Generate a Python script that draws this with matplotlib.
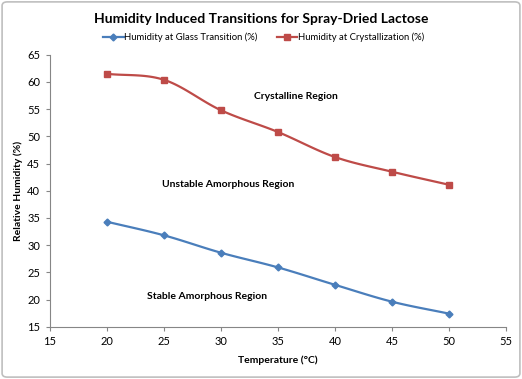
import numpy as np
import matplotlib
matplotlib.use("Agg")
from matplotlib import pyplot as plt
from matplotlib.patches import FancyBboxPatch

temperature = [20, 25, 30, 35, 40, 45, 50]
rh_glass = [34.3, 31.8, 28.6, 25.9, 22.7, 19.6, 17.4]
rh_cryst = [61.5, 60.4, 54.8, 50.8, 46.2, 43.5, 41.1]

regions = [
    ("Crystalline Region", 36.6, 57.3),
    ("Unstable Amorphous Region", 30.6, 41.2),
    ("Stable Amorphous Region", 28.8, 20.5),
]


def smooth(x, y, steps=20):
    # catmull-rom, roughly what excel's "smoothed line" does
    x = np.asarray(x, float)
    y = np.asarray(y, float)
    px = np.concatenate([[2 * x[0] - x[1]], x, [2 * x[-1] - x[-2]]])
    py = np.concatenate([[2 * y[0] - y[1]], y, [2 * y[-1] - y[-2]]])
    xs, ys = [], []
    t = np.linspace(0, 1, steps, endpoint=False)
    for i in range(1, len(px) - 2):
        for p, out in ((px, xs), (py, ys)):
            p0, p1, p2, p3 = p[i - 1:i + 3]
            out.extend(0.5 * (2 * p1 + (-p0 + p2) * t + (2 * p0 - 5 * p1 + 4 * p2 - p3) * t ** 2
                              + (-p0 + 3 * p1 - 3 * p2 + p3) * t ** 3))
    xs.append(x[-1])
    ys.append(y[-1])
    return xs, ys


plt.rcParams['font.family'] = ['Lato', 'DejaVu Sans']
fig = plt.figure(figsize=(5.22, 3.79), dpi=100)
fig.patches.append(FancyBboxPatch((0.004, 0.005), 0.992, 0.99, boxstyle="round,pad=0,rounding_size=0.01",
                                  transform=fig.transFigure, facecolor='none',
                                  edgecolor='#bfbfbf', linewidth=1.2, zorder=5))
ax = fig.add_axes([0.0958, 0.138, 0.8735, 0.7174])

blue = '#4a7ebb'
red = '#be4b48'
sx, sy = smooth(temperature, rh_glass)
ax.plot(sx, sy, color=blue, linewidth=1.6)
ax.plot(temperature, rh_glass, linestyle='none', marker='D', markersize=3.5, color=blue)
sx, sy = smooth(temperature, rh_cryst)
ax.plot(sx, sy, color=red, linewidth=1.6)
ax.plot(temperature, rh_cryst, linestyle='none', marker='s', markersize=5, color=red)

# legend proxies
ax.plot([], [], color=blue, marker='D', markersize=3.5, linewidth=1.6,
        label='Humidity at Glass Transition (%)')
ax.plot([], [], color=red, marker='s', markersize=5, linewidth=1.6,
        label='Humidity at Crystallization (%)')
h, l = ax.get_legend_handles_labels()
fig.legend(h[-2:], l[-2:], loc='center', bbox_to_anchor=(0.505, 0.902), ncol=2, frameon=False,
           fontsize=6.8, handlelength=2.2, columnspacing=2.0, handletextpad=0.1)

for text, x, y in regions:
    ax.text(x, y, text, ha='center', va='center', fontsize=7.5, fontweight='bold')

ax.set_xlim(15, 55)
ax.set_ylim(15, 65)
ax.set_xticks(range(15, 56, 5))
ax.set_yticks(range(15, 66, 5))
for side in ('top', 'right'):
    ax.spines[side].set_visible(False)
for side in ('left', 'bottom'):
    ax.spines[side].set_color('#868686')
ax.tick_params(direction='out', length=3, color='#868686', labelsize=8, pad=4)

ax.set_xlabel('Temperature (°C)', fontsize=7.5, fontweight='bold', labelpad=6)
ax.set_ylabel('Relative Humidity (%)', fontsize=7.5, fontweight='bold', labelpad=3)
fig.suptitle('Humidity Induced Transitions for Spray-Dried Lactose', x=0.5, y=0.965,
             fontsize=10, fontweight='bold')

fig.savefig('out.png', dpi=100)
